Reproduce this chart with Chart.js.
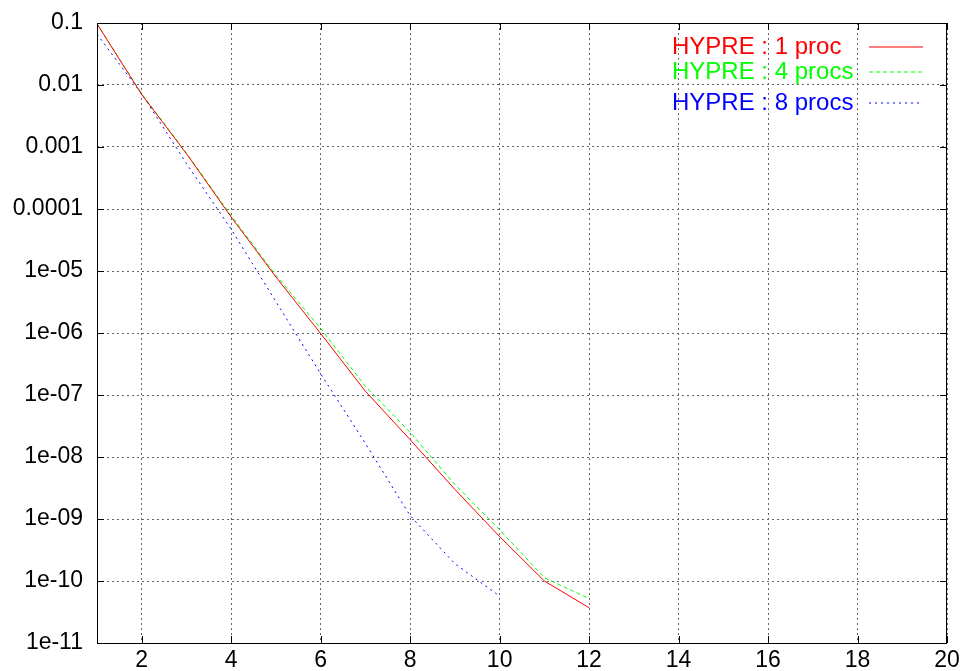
<!DOCTYPE html>
<html>
<head>
<meta charset="utf-8">
<script src="https://cdn.jsdelivr.net/npm/chart.js@4"></script>
<style>
  body { margin: 0; background: #fff; }
  #wrap { width: 964px; height: 671px; }
</style>
</head>
<body>
<div id="wrap"><canvas id="conv" width="964" height="671"></canvas></div>
<script>
const iterations = [1, 2, 3, 4, 5, 6, 7, 8, 9, 10, 11, 12];
const proc1 = [0.097, 7.0e-3, 7.8e-4, 7.4e-5, 8.0e-6, 9.8e-7, 1.15e-7, 1.9e-8, 3.0e-9, 5.2e-10, 1.0e-10, 3.7e-11];
const proc4 = [0.097, 7.2e-3, 8.0e-4, 7.8e-5, 8.5e-6, 1.18e-6, 1.38e-7, 2.5e-8, 3.6e-9, 6.7e-10, 1.13e-10, 5.2e-11];
const proc8 = [0.066, 7.2e-3, 5.4e-4, 4.7e-5, 3.2e-6, 2.2e-7, 1.65e-8, 1.13e-9, 1.9e-10, 5.7e-11];
const seriesNames = ["HYPRE : 1 proc", "HYPRE : 4 procs", "HYPRE : 8 procs"];

const xTicks = [2, 4, 6, 8, 10, 12, 14, 16, 18, 20];
const yTicks = [0.1, 0.01, 0.001, 0.0001, 1e-5, 1e-6, 1e-7, 1e-8, 1e-9, 1e-10, 1e-11];
const yTickLabels = ["0.1", "0.01", "0.001", "0.0001", "1e-05", "1e-06", "1e-07", "1e-08", "1e-09", "1e-10", "1e-11"];

const colors = ["#ff0000", "#00ff00", "#0000ff"];
const dashes = [[], [4, 3], [2, 4]];
const FONT = "Liberation Sans, Arial, sans-serif";

const toPoints = (vals) => vals.map((v, i) => ({ x: iterations[i], y: v }));

// gnuplot style frame: border on all sides, ticks pointing in, key on the right
const framePlugin = {
  id: "frame",
  afterDraw(chart) {
    const { ctx, chartArea: a, scales } = chart;
    ctx.save();
    ctx.strokeStyle = "#000";
    ctx.lineWidth = 1;
    ctx.setLineDash([]);
    ctx.strokeRect(a.left + 0.5, a.top + 0.5, a.right - a.left - 1, a.bottom - a.top);
    ctx.beginPath();
    xTicks.forEach((v) => {
      const px = Math.round(scales.x.getPixelForValue(v)) + 0.5;
      ctx.moveTo(px, a.bottom);
      ctx.lineTo(px, a.bottom - 7);
      ctx.moveTo(px, a.top);
      ctx.lineTo(px, a.top + 7);
    });
    yTicks.forEach((v) => {
      const py = Math.round(scales.y.getPixelForValue(v)) + 0.5;
      ctx.moveTo(a.left, py);
      ctx.lineTo(a.left + 7, py);
      ctx.moveTo(a.right, py);
      ctx.lineTo(a.right - 7, py);
    });
    ctx.stroke();

    // key
    const rows = [47, 72, 103];
    ctx.font = "24px " + FONT;
    ctx.textBaseline = "middle";
    ctx.textAlign = "left";
    seriesNames.forEach((name, i) => {
      ctx.fillStyle = colors[i];
      ctx.fillText(name, 672, rows[i]);
      ctx.beginPath();
      ctx.setLineDash(dashes[i]);
      ctx.lineWidth = 1.2;
      ctx.strokeStyle = colors[i];
      ctx.moveTo(869, rows[i]);
      ctx.lineTo(923, rows[i]);
      ctx.stroke();
    });
    ctx.restore();
  },
};

const datasets = [proc1, proc4, proc8].map((vals, i) => ({
  label: seriesNames[i],
  data: toPoints(vals),
  borderColor: colors[i],
  borderWidth: 1,
  borderDash: dashes[i],
  pointRadius: 0,
  tension: 0,
  fill: false,
}));

new Chart(document.getElementById("conv").getContext("2d"), {
  type: "line",
  data: { datasets },
  plugins: [framePlugin],
  options: {
    responsive: false,
    animation: false,
    layout: { padding: { left: 0, right: 17, top: 23, bottom: 0 } },
    plugins: { legend: { display: false }, tooltip: { enabled: false } },
    scales: {
      x: {
        type: "linear",
        min: 1,
        max: 20,
        afterBuildTicks: (scale) => {
          scale.ticks = xTicks.map((v) => ({ value: v }));
        },
        afterFit: (scale) => {
          scale.height = 28;
        },
        grid: { color: "#666", drawTicks: false },
        border: { display: false, dash: [2, 3] },
        ticks: {
          color: "#000",
          padding: 4,
          maxRotation: 0,
          autoSkip: false,
          font: { family: FONT, size: 23 },
        },
      },
      y: {
        type: "logarithmic",
        min: 1e-11,
        max: 0.1,
        afterBuildTicks: (scale) => {
          scale.ticks = yTicks.map((v) => ({ value: v }));
        },
        afterFit: (scale) => {
          scale.width = 97;
          scale.paddingTop = 0;
          scale.paddingBottom = 0;
        },
        grid: { color: "#666", drawTicks: false },
        border: { display: false, dash: [2, 3] },
        ticks: {
          color: "#000",
          padding: 14,
          autoSkip: false,
          font: { family: FONT, size: 23 },
          callback: (v) => {
            const i = yTicks.findIndex((t) => Math.abs(Math.log10(t) - Math.log10(v)) < 1e-6);
            return i >= 0 ? yTickLabels[i] : "";
          },
        },
      },
    },
  },
});
</script>
</body>
</html>
